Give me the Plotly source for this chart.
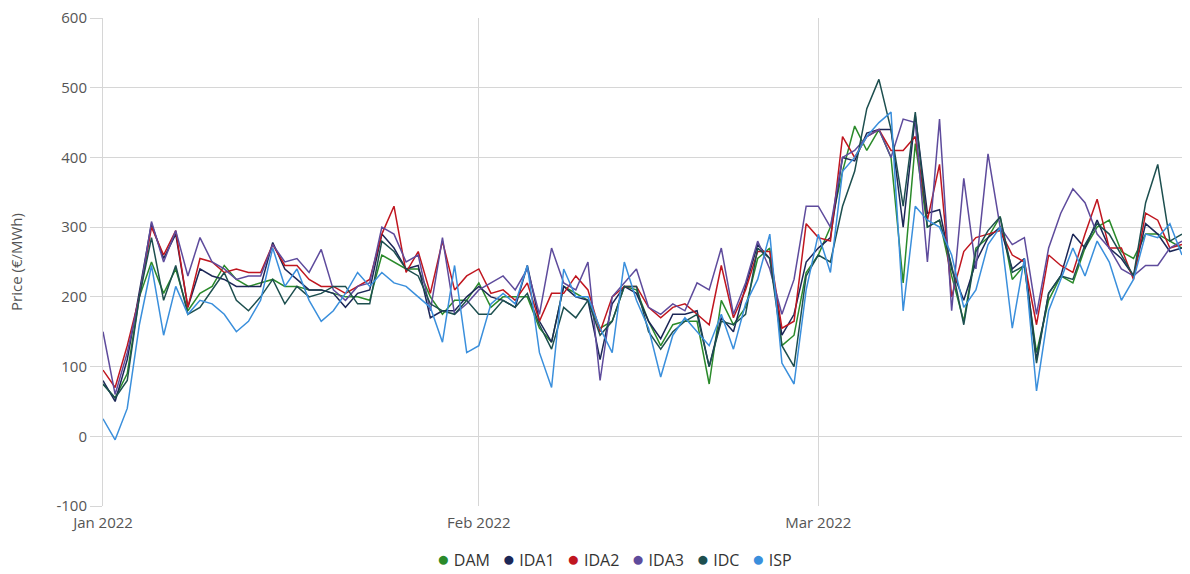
import pandas as pd
import plotly.graph_objects as go

dates = pd.date_range("2022-01-01", "2022-03-31", freq="D")

DAM = [75,55,90,200,250,205,240,180,205,215,245,225,215,220,225,215,215,210,210,205,200,200,195,260,250,240,240,200,175,195,195,
       220,185,200,200,200,155,135,215,205,195,155,165,215,210,165,130,160,165,165,75,195,160,185,255,270,130,145,235,
       260,300,380,445,410,440,400,220,420,300,310,230,165,270,285,315,225,245,120,195,230,220,270,300,310,265,255,290,290,280,270]
IDA1 = [80,50,110,210,305,255,290,185,240,230,225,215,215,215,278,240,225,210,210,205,185,205,210,290,270,240,245,170,180,180,200,
        215,200,195,185,245,165,135,215,200,195,110,190,215,205,165,140,175,175,180,100,170,150,215,275,255,145,175,250,
        270,285,400,395,435,440,440,300,460,320,325,240,195,250,285,300,240,255,110,205,230,290,270,310,270,255,230,305,290,265,270]
IDA2 = [95,70,130,200,300,260,295,185,255,250,235,240,235,235,275,245,245,225,215,215,205,215,225,290,330,235,265,205,280,210,230,
        240,205,210,195,220,165,205,205,230,210,150,200,215,215,185,170,185,190,175,160,245,170,210,265,265,155,165,305,
        285,280,430,400,430,440,410,410,430,310,390,200,265,285,290,295,260,250,160,260,245,235,290,340,270,270,225,320,310,270,275]
IDA3 = [150,60,120,200,308,250,295,230,285,250,240,225,230,230,275,250,255,235,268,210,195,215,220,300,290,250,260,180,285,175,190,
        210,220,230,210,240,175,270,220,210,250,80,200,220,240,185,175,190,180,220,210,270,175,220,280,240,175,225,330,
        330,300,400,410,430,440,400,455,450,250,455,180,370,240,405,300,275,285,175,270,320,355,335,290,270,240,230,245,245,270,280]
IDC = [75,55,80,200,285,195,245,175,185,210,235,195,180,200,225,190,215,200,205,215,215,190,190,280,265,240,230,190,180,175,195,
       175,175,195,185,205,160,125,185,170,195,145,165,215,215,150,125,150,165,175,100,165,160,175,270,255,130,100,230,
       260,250,330,380,470,512,440,330,465,300,310,245,160,265,295,315,235,245,105,205,230,225,275,305,290,260,230,335,390,280,290]
ISP = [25,-5,40,160,245,145,215,175,195,190,175,150,165,195,270,215,240,195,165,180,205,235,215,235,220,215,200,185,135,245,120,
       130,190,205,190,245,120,70,240,200,200,155,120,250,195,155,85,145,170,150,130,175,125,190,225,290,105,75,210,
       290,235,380,400,430,450,465,180,330,310,300,260,185,210,275,300,155,255,65,180,225,270,230,280,250,195,225,290,285,305,260]

series_names = ["DAM", "IDA1", "IDA2", "IDA3", "IDC", "ISP"]
series_values = [DAM, IDA1, IDA2, IDA3, IDC, ISP]
colors = ["#2a8a2a", "#1c2757", "#c0161f", "#5e4b9c", "#1d4f4f", "#3a8fdc"]

month_ticks = ["2022-01-01", "2022-02-01", "2022-03-01"]
month_labels = ["Jan 2022", "Feb 2022", "Mar 2022"]
y_ticks = [-100, 0, 100, 200, 300, 400, 500, 600]
y_labels = ["-100", "0", "100", "200", "300", "400", "500", "600"]

fig = go.Figure()
for name, vals, c in zip(series_names, series_values, colors):
    fig.add_trace(go.Scatter(x=dates, y=vals, mode="lines", name=name,
                             line=dict(color=c, width=1.5)))

# compact legend: coloured dot + name, as real text
legend_text = "   ".join(
    f"<span style='color:{c};font-size:21px'>●</span> {n}" for n, c in zip(series_names, colors)
)
fig.add_annotation(text=legend_text, xref="paper", yref="paper", x=0.4745, y=-0.107,
                   xanchor="center", yanchor="middle", showarrow=False,
                   font=dict(size=16, color="#333333"))

fig.update_layout(
    width=1190, height=574,
    margin=dict(l=103, r=8, t=18, b=68),
    paper_bgcolor="white", plot_bgcolor="white",
    showlegend=False,
    font=dict(family="Open Sans, Segoe UI, sans-serif", color="#555555", size=15),
    xaxis=dict(range=["2022-01-01", "2022-03-31"], tickvals=month_ticks, ticktext=month_labels,
               showgrid=True, gridcolor="#d6d6d6", gridwidth=1, zeroline=False, automargin=False,
               showline=False, ticks="outside", ticklen=3, tickcolor="rgba(0,0,0,0)",
               tickfont=dict(size=15, color="#555555")),
    yaxis=dict(range=[-100, 600], tickvals=y_ticks, ticktext=y_labels, showgrid=True,
               gridcolor="#d6d6d6", automargin=False,
               gridwidth=1, zeroline=False, showline=True, linecolor="#d6d6d6",
               ticks="outside", ticklen=12, tickcolor="#d6d6d6",
               title=dict(text="Price (€/MWh)", font=dict(size=15, color="#555555"), standoff=30),
               tickfont=dict(size=15, color="#555555")),
)
fig.write_html("out.html", config={"displayModeBar": False},
               post_script="document.body.style.margin='0';document.body.style.overflow='hidden';")
